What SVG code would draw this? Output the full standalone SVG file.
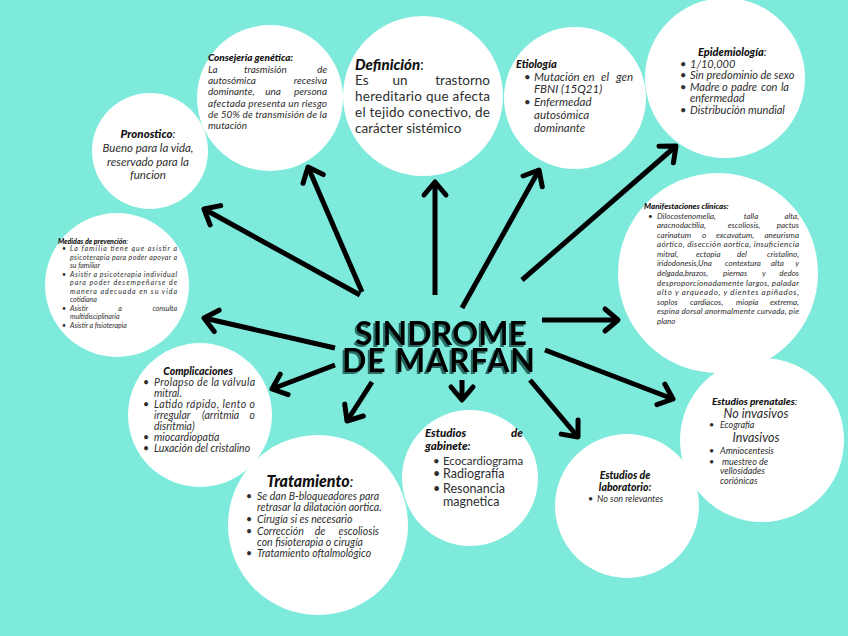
<svg xmlns="http://www.w3.org/2000/svg" width="848" height="636" viewBox="0 0 848 636">
<defs>
<style>
.c{fill:#ffffff}
.t{font-family:Lato,"Liberation Sans",sans-serif;font-style:italic;fill:#2e2e2e}
.h{font-family:Lato,"Liberation Sans",sans-serif;font-style:italic;font-weight:900;fill:#111}
.r{font-family:Lato,"Liberation Sans",sans-serif;fill:#2e2e2e}
.e{text-anchor:end}
.m{text-anchor:middle}
.ttl{font-family:Lato,"Liberation Sans",sans-serif;font-weight:bold;font-size:32px;fill:#000}
.ar{fill:none;stroke:#000;stroke-width:5;marker-end:url(#ah)}
.s7{font-size:7px}.s8{font-size:8px}.s9{font-size:9px}.s10{font-size:10px}.s105{font-size:10.5px}.s11{font-size:11px}.s115{font-size:11.5px}.s135{font-size:13.5px}
</style>
<marker id="ah" markerUnits="userSpaceOnUse" viewBox="0 0 24 24" markerWidth="24" markerHeight="24" refX="18" refY="12" orient="auto" overflow="visible">
<path d="M5,1 L18,12 L5,23" fill="none" stroke="#000" stroke-width="5" stroke-linejoin="round" stroke-linecap="round"/>
</marker>
<filter id="shadow" x="-10%" y="-20%" width="120%" height="150%">
<feOffset in="SourceAlpha" dx="-2" dy="2" result="o"/>
<feFlood flood-color="#2b6b64"/>
<feComposite in2="o" operator="in" result="s"/>
<feMerge><feMergeNode in="s"/><feMergeNode in="SourceGraphic"/></feMerge>
</filter>
</defs>
<rect width="848" height="636" fill="#7deadc"/>

<g id="connectors">
<path class="ar" d="M360,295 L204,209"/>
<path class="ar" d="M362,292 L308,167"/>
<path class="ar" d="M435,295 L435,182"/>
<path class="ar" d="M462,308 L539,170"/>
<path class="ar" d="M522,280 L676,146"/>
<path class="ar" d="M542,320 L618,320"/>
<path class="ar" d="M335,348 L204,318"/>
<path class="ar" d="M335,365 L272,389"/>
<path class="ar" d="M372,382 L347,421"/>
<path class="ar" d="M462,380 L462,400"/>
<path class="ar" d="M530,380 L578,437"/>
<path class="ar" d="M545,350 L673,399"/>
</g>

<g id="title" filter="url(#shadow)">
<text class="ttl"><tspan x="355" y="345" textLength="172" lengthAdjust="spacing">SINDROME</tspan><tspan x="342" y="372" textLength="193" lengthAdjust="spacing">DE MARFAN</tspan></text>
</g>

<g id="consejeria">
<circle class="c" cx="270" cy="98" r="73"/>
<text class="h s10" x="208" y="60.5">Consejería genética:</text>
<g class="t s10">
<text x="208" y="72.5">La</text><text x="244" y="72.5">trasmisión</text><text class="e" x="327" y="72.5">de</text>
<text x="208" y="84">autosómica</text><text class="e" x="327" y="84">recesiva</text>
<text x="208" y="95.3">dominante,</text><text class="m" x="273" y="95.3">una</text><text class="e" x="327" y="95.3">persona</text>
<text x="208" y="106.6" textLength="119" lengthAdjust="spacing">afectada presenta un riesgo</text>
<text x="208" y="118" textLength="119" lengthAdjust="spacing">de 50% de transmisión de la</text>
<text x="208" y="129.3">mutación</text>
</g>
</g>

<g id="definicion">
<circle class="c" cx="423" cy="96" r="80"/>
<text x="355" y="70" font-size="15"><tspan class="h">Definición</tspan><tspan class="r">:</tspan></text>
<g class="r s135">
<text x="355" y="85">Es</text><text class="m" x="400" y="85">un</text><text class="e" x="490" y="85">trastorno</text>
<text x="355" y="101" textLength="135" lengthAdjust="spacing">hereditario que afecta</text>
<text x="355" y="117" textLength="135" lengthAdjust="spacing">el tejido conectivo, de</text>
<text x="355" y="133">carácter sistémico</text>
</g>
</g>

<g id="etiologia">
<circle class="c" cx="575" cy="98" r="71"/>
<text class="h s11" x="516" y="67.5">Etiología</text>
<g class="t s115">
<text x="524" y="80.5">•</text><text x="534" y="80.5">Mutación</text><text x="583" y="80.5">en</text><text x="601" y="80.5">el</text><text class="e" x="633" y="80.5">gen</text>
<text x="534" y="93">FBNI (15Q21)</text>
<text x="524" y="106">•</text><text x="534" y="106">Enfermedad</text>
<text x="534" y="119">autosómica</text>
<text x="534" y="132">dominante</text>
</g>
</g>

<g id="epidemiologia">
<circle class="c" cx="725" cy="78" r="80"/>
<text x="698" y="56" class="s11"><tspan class="h">Epidemiología</tspan><tspan class="t">:</tspan></text>
<g class="t s11">
<text x="680" y="67.5">•</text><text x="690" y="67.5">1/10,000</text>
<text x="680" y="79">•</text><text x="690" y="79">Sin predominio de sexo</text>
<text x="680" y="90.5">•</text><text x="690" y="90.5">Madre</text><text x="722" y="90.5">o</text><text x="731" y="90.5">padre</text><text x="761" y="90.5">con</text><text class="e" x="789" y="90.5">la</text>
<text x="690" y="102">enfermedad</text>
<text x="680" y="113.5">•</text><text x="690" y="113.5">Distribución mundial</text>
</g>
</g>

<g id="pronostico">
<circle class="c" cx="150" cy="151" r="58"/>
<text x="148" y="138" class="s115 m"><tspan class="h">Pronostico</tspan><tspan class="t">:</tspan></text>
<g class="t s115 m">
<text x="148" y="152">Bueno para la vida,</text>
<text x="148" y="165.5">reservado para la</text>
<text x="148" y="178.5">funcion</text>
</g>
</g>

<g id="medidas">
<circle class="c" cx="117" cy="285" r="72"/>
<text x="58" y="243.5" class="s7"><tspan class="h">Medidas de prevención</tspan><tspan class="t">:</tspan></text>
<g class="t s7">
<text x="62" y="251">•</text><text x="70" y="251" textLength="107" lengthAdjust="spacing">La familia tiene que asistir a</text>
<text x="70" y="259.5" textLength="107" lengthAdjust="spacing">psicoterapia para poder apoyar a</text>
<text x="70" y="268">su familiar</text>
<text x="62" y="276.6">•</text><text x="70" y="276.6" textLength="107" lengthAdjust="spacing">Asistir a psicoterapia individual</text>
<text x="70" y="285.2" textLength="107" lengthAdjust="spacing">para poder desempeñarse de</text>
<text x="70" y="293.8" textLength="107" lengthAdjust="spacing">manera adecuada en su vida</text>
<text x="70" y="302.3">cotidiana</text>
<text x="62" y="310.9">•</text><text x="70" y="310.9">Asistir</text><text class="m" x="120" y="310.9">a</text><text class="e" x="177" y="310.9">consulta</text>
<text x="70" y="319.4">multidisciplinaria</text>
<text x="62" y="328">•</text><text x="70" y="328">Asistir a fisioterapia</text>
</g>
</g>

<g id="manifestaciones">
<circle class="c" cx="718" cy="273" r="100"/>
<text class="h s8" x="644" y="209">Manifestaciones clínicas:</text>
<g class="t s8">
<text x="648" y="218.5">•</text><text x="657" y="218.5">Dilocostenomelia,</text><text class="m" x="751" y="218.5">talla</text><text class="e" x="799" y="218.5">alta,</text>
<text x="657" y="228">aracnodactilia,</text><text class="m" x="744" y="228">escoliosis,</text><text class="e" x="799" y="228">pactus</text>
<text x="657" y="237.6">carinatum</text><text x="702" y="237.6">o</text><text x="716" y="237.6">excavatum,</text><text class="e" x="799" y="237.6">aneurisma</text>
<text x="657" y="247.2" textLength="142" lengthAdjust="spacing">aórtico, disección aortica, insuficiencia</text>
<text x="657" y="256.8">mitral,</text><text x="696" y="256.8">ectopia</text><text x="737" y="256.8">del</text><text class="e" x="799" y="256.8">cristalino,</text>
<text x="657" y="266.4">iridodonesis,Una</text><text x="725" y="266.4">contextura</text><text x="771" y="266.4">alta</text><text class="e" x="799" y="266.4">y</text>
<text x="657" y="276">delgada,brazos,</text><text x="723" y="276">piernas</text><text x="762" y="276">y</text><text class="e" x="799" y="276">dedos</text>
<text x="657" y="285.5" textLength="142" lengthAdjust="spacing">desproporcionadamente largos, paladar</text>
<text x="657" y="295.1" textLength="142" lengthAdjust="spacing">alto y arqueado, y dientes apiñados,</text>
<text x="657" y="304.7">soplos</text><text x="690" y="304.7">cardiacos,</text><text x="736" y="304.7">miopía</text><text class="e" x="799" y="304.7">extrema,</text>
<text x="657" y="314.3" textLength="142" lengthAdjust="spacing">espina dorsal anormalmente curvada, pie</text>
<text x="657" y="323.9">plano</text>
</g>
</g>

<g id="complicaciones">
<circle class="c" cx="200" cy="415" r="72"/>
<text class="h s105 m" x="198" y="374.5">Complicaciones</text>
<g class="t s105">
<text x="143" y="386">•</text><text x="154" y="386" textLength="101" lengthAdjust="spacing">Prolapso de la válvula</text>
<text x="154" y="397">mitral.</text>
<text x="143" y="408">•</text><text x="154" y="408" textLength="101" lengthAdjust="spacing">Latido rápido, lento o</text>
<text x="154" y="419">irregular</text><text x="202" y="419">(arritmia</text><text class="e" x="255" y="419">o</text>
<text x="154" y="430">disritmia)</text>
<text x="143" y="441">•</text><text x="154" y="441">miocardiopatía</text>
<text x="143" y="452">•</text><text x="154" y="452">Luxación del cristalino</text>
</g>
</g>

<g id="tratamiento">
<circle class="c" cx="318" cy="525" r="90"/>
<text x="310" y="486.5" font-size="16" class="m"><tspan class="h">Tratamiento</tspan><tspan class="t">:</tspan></text>
<g class="t s105">
<text x="246" y="499.5">•</text><text x="257" y="499.5" textLength="122" lengthAdjust="spacing">Se dan B-bloqueadores para</text>
<text x="257" y="511">retrasar la dilatación aortica.</text>
<text x="246" y="523">•</text><text x="257" y="523">Cirugía si es necesario</text>
<text x="246" y="534.5">•</text><text x="257" y="534.5">Corrección</text><text class="m" x="320" y="534.5">de</text><text class="e" x="379" y="534.5">escoliosis</text>
<text x="257" y="545.5">con fisioterapia o cirugía</text>
<text x="246" y="557">•</text><text x="257" y="557">Tratamiento oftalmológico</text>
</g>
</g>

<g id="gabinete">
<circle class="c" cx="470" cy="478" r="68"/>
<g class="h" font-size="11.5">
<text x="425" y="436.5">Estudios</text><text class="e" x="523" y="436.5">de</text>
<text x="425" y="450">gabinete<tspan class="t">:</tspan></text>
</g>
<g class="r">
<text x="433" y="464.5" font-size="11.5">•</text><text x="443" y="464.5" font-size="11.5">Ecocardiograma</text>
<text x="433" y="478" font-size="12.5">•</text><text x="443" y="478" font-size="12.5">Radiografía</text>
<text x="433" y="492.5" font-size="12.5">•</text><text x="443" y="492.5" font-size="12.5">Resonancia</text>
<text x="443" y="506" font-size="12.5">magnetica</text>
</g>
</g>

<g id="laboratorio">
<circle class="c" cx="627" cy="506" r="72"/>
<g class="h s105 m">
<text x="625" y="479">Estudios de</text>
<text x="625" y="491">laboratorio<tspan class="t">:</tspan></text>
</g>
<g class="t s9">
<text x="588" y="502">•</text><text x="597" y="502">No son relevantes</text>
</g>
</g>

<g id="prenatales">
<circle class="c" cx="762" cy="440" r="82"/>
<text x="712" y="405" class="s10"><tspan class="h">Estudios prenatales</tspan><tspan class="t">:</tspan></text>
<g class="t m" font-size="12.5">
<text x="756" y="417.5">No invasivos</text>
<text x="756" y="441.5">Invasivos</text>
</g>
<g class="t s9">
<text x="709" y="428">•</text><text x="720" y="428">Ecografía</text>
<text x="709" y="454">•</text><text x="720" y="454">Amniocentesis</text>
<text x="709" y="464.5">•</text><text x="722" y="464.5">muestreo de</text>
<text x="720" y="474">vellosidades</text>
<text x="720" y="483.5">coriónicas</text>
</g>
</g>
</svg>
